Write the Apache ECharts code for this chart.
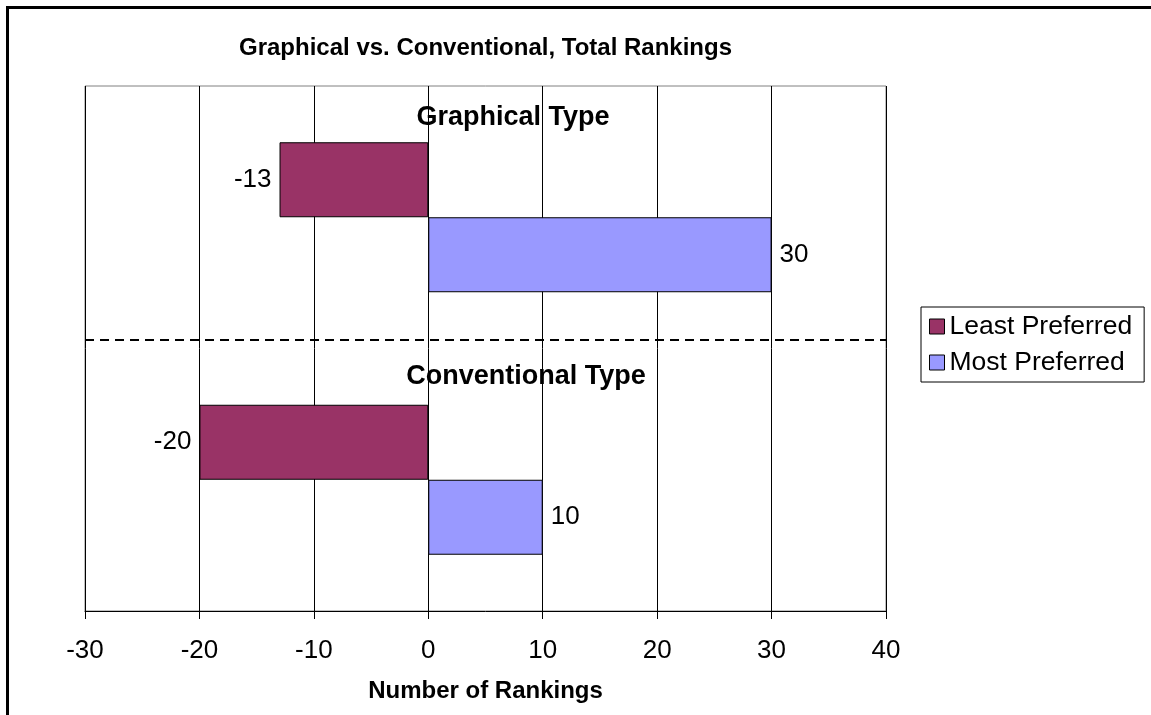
<!DOCTYPE html>
<html>
<head>
<meta charset="utf-8">
<script src="https://cdn.jsdelivr.net/npm/echarts@6/dist/echarts.min.js"></script>
<style>
  html, body { margin: 0; padding: 0; background: #fff; }
  #chart { width: 1151px; height: 715px; }
</style>
</head>
<body>
<div id="chart"></div>
<script>
// Chart data
const categories = ['Graphical Type', 'Conventional Type'];
const leastPreferred = [-13, -20];
const mostPreferred = [30, 10];
const seriesNames = ['Least Preferred', 'Most Preferred'];
const xTicks = { min: -30, max: 40, interval: 10 };

const FONT = '"Liberation Sans", Arial, sans-serif';

const chart = echarts.init(document.getElementById('chart'), null, { renderer: 'canvas' });

chart.setOption({
  backgroundColor: '#fff',
  animation: false,
  title: {
    text: 'Graphical vs. Conventional, Total Rankings',
    left: 480.5,
    textAlign: 'center',
    top: 31,
    textStyle: { fontFamily: FONT, fontSize: 24, fontWeight: 'bold', color: '#000' }
  },
  grid: {
    left: 85, right: 265, top: 86, bottom: 104,
    show: true, borderColor: '#808080', borderWidth: 1, backgroundColor: '#fff'
  },
  legend: {
    orient: 'vertical',
    left: 921, top: 307,
    padding: [6, 12, 6, 8],
    itemGap: 9,
    itemWidth: 15, itemHeight: 15,
    itemTextGap: 8,
    icon: 'rect',
    borderColor: '#000', borderWidth: 1,
    textStyle: { fontFamily: FONT, fontSize: 26.5, color: '#000' },
    itemStyle: { borderColor: '#000', borderWidth: 1 },
    data: seriesNames
  },
  xAxis: {
    type: 'value',
    min: xTicks.min, max: xTicks.max, interval: xTicks.interval,
    name: 'Number of Rankings',
    nameLocation: 'middle',
    nameGap: 68,
    nameTextStyle: { fontFamily: FONT, fontSize: 24, fontWeight: 'bold', color: '#000' },
    axisLine: { show: true, lineStyle: { color: '#000', width: 1 } },
    axisTick: { show: true, length: 8, lineStyle: { color: '#000' } },
    axisLabel: { fontFamily: FONT, fontSize: 26, color: '#000', margin: 27 },
    splitLine: { show: true, lineStyle: { color: '#000', width: 1 } }
  },
  yAxis: {
    type: 'category',
    inverse: true,
    data: categories,
    axisLine: { show: false },
    axisTick: { show: false },
    axisLabel: { show: false },
    splitLine: { show: false }
  },
  series: [
    {
      name: seriesNames[0],
      type: 'bar',
      data: leastPreferred,
      barGap: '0%',
      barCategoryGap: '42.86%',
      itemStyle: { color: '#993366', borderColor: '#000', borderWidth: 1 },
      label: {
        show: true, position: 'left', distance: 8,
        fontFamily: FONT, fontSize: 26, color: '#000'
      }
    },
    {
      name: seriesNames[1],
      type: 'bar',
      data: mostPreferred,
      barGap: '0%',
      barCategoryGap: '42.86%',
      itemStyle: { color: '#9999FF', borderColor: '#000', borderWidth: 1 },
      label: {
        show: true, position: 'right', distance: 8,
        fontFamily: FONT, fontSize: 26, color: '#000'
      }
    }
  ],
  graphic: [
    // outer frame (left and top edges)
    {
      type: 'polyline',
      shape: { points: [[7.5, 715], [7.5, 7.5], [1151, 7.5]] },
      style: { stroke: '#000', lineWidth: 3, fill: null },
      z: 100
    },
    // dashed separator between the two groups
    {
      type: 'line',
      shape: { x1: 85, y1: 340, x2: 886, y2: 340 },
      style: { stroke: '#000', lineWidth: 2, lineDash: [9, 6] },
      z: 100
    },
    // group captions
    {
      type: 'text',
      x: 513, y: 118,
      style: {
        text: categories[0], fontFamily: FONT, fontSize: 27, fontWeight: 'bold',
        fill: '#000', align: 'center', verticalAlign: 'middle'
      },
      z: 100
    },
    {
      type: 'text',
      x: 526, y: 377,
      style: {
        text: categories[1], fontFamily: FONT, fontSize: 27, fontWeight: 'bold',
        fill: '#000', align: 'center', verticalAlign: 'middle'
      },
      z: 100
    }
  ]
});
</script>
</body>
</html>
